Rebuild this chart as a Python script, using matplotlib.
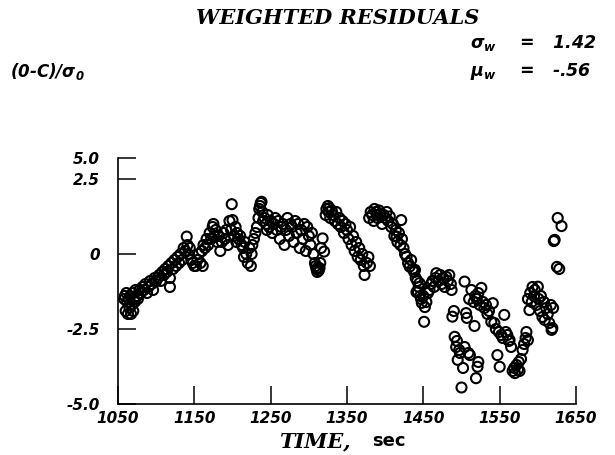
import matplotlib
matplotlib.use('Agg')
import matplotlib.pyplot as plt
import numpy as np

# weighted residuals, in time order (sec, (O-C)/sigma0)
t_a = [1058, 1059, 1060, 1061, 1062, 1063, 1064, 1065, 1066, 1067, 1068, 1069, 1070, 1071, 1072,
       1073, 1075, 1076, 1078, 1080, 1082, 1084, 1086, 1088, 1090, 1092, 1094, 1096, 1098, 1100]
r_a = [-1.5, -1.4, -1.9, -1.3, -1.6, -2.0, -1.5, -1.8, -1.4, -2.0, -1.7, -1.3, -1.9, -1.5, -1.6,
       -1.2, -1.4, -1.5, -1.2, -1.3, -1.1, -1.2, -1.0, -1.3, -1.1, -0.9, -1.0, -1.2, -0.8, -0.9]

t_b = [1102, 1104, 1106, 1108, 1110, 1112, 1114, 1116, 1118, 1118, 1120, 1122, 1124, 1126, 1128,
       1130, 1132, 1134, 1136, 1138, 1140, 1141, 1142, 1144, 1146, 1148, 1150]
r_b = [-0.8, -0.7, -0.9, -0.6, -0.7, -0.5, -0.6, -0.4, -0.8, -1.1, -0.3, -0.5, -0.2, -0.4, -0.1,
       -0.3, 0.0, -0.2, 0.2, 0.1, 0.58, 0.3, 0.0, 0.2, -0.2, -0.3, -0.4]

t_c = [1152, 1154, 1156, 1158, 1160, 1161, 1162, 1164, 1166, 1168, 1170, 1172, 1174, 1175, 1176,
       1178, 1180, 1182, 1184, 1186, 1188, 1190, 1192, 1194, 1196, 1198, 1199, 1200]
r_c = [-0.4, -0.2, 0.0, -0.3, 0.1, -0.4, 0.3, 0.2, 0.5, 0.3, 0.7, 0.5, 0.9, 1.0, 0.6,
       0.8, 0.4, 0.6, 0.1, 0.4, 0.7, 0.5, 0.8, 0.3, 1.1, 0.8, 1.66, 1.13]

t_d = [1202, 1204, 1205, 1206, 1208, 1210, 1212, 1214, 1215, 1216, 1218, 1220, 1222, 1224, 1225,
       1226, 1228, 1230, 1232, 1234, 1235, 1236, 1237, 1238, 1239, 1240]
r_d = [0.6, 0.9, 0.4, 0.7, 0.5, 0.6, 0.3, 0.2, -0.1, 0.4, 0.0, -0.3, 0.2, -0.4, 0.0,
       0.3, 0.5, 0.7, 0.9, 1.2, 1.5, 1.6, 1.7, 1.74, 1.4, 1.1]

t_e = [1242, 1244, 1245, 1246, 1248, 1250, 1252, 1254, 1256, 1258, 1260, 1262, 1264, 1266, 1268,
       1270, 1272, 1274, 1276, 1278, 1280, 1282, 1284, 1286, 1288, 1290, 1292, 1294, 1296, 1298,
       1300, 1302, 1304]
r_e = [1.2, 1.0, 0.8, 1.3, 0.9, 1.1, 0.7, 1.0, 1.2, 0.8, 1.1, 0.5, 0.9, 1.0, 0.3,
       0.8, 1.2, 0.6, 1.0, 0.9, 0.4, 1.1, 0.7, 1.0, 0.2, 0.8, 0.5, 1.0, 0.1, 0.9,
       0.6, 0.3, 0.7]

t_f = [1306, 1308, 1309, 1310, 1311, 1312, 1313, 1314, 1315, 1316, 1318, 1320, 1322, 1323, 1325,
       1326, 1327, 1328]
r_f = [0.0, -0.3, -0.4, -0.5, -0.6, -0.45, -0.55, -0.47, -0.3, 0.2, 0.52, 0.08, 1.3, 1.5, 1.6,
       1.4, 1.53, 1.2]

t_g = [1330, 1332, 1334, 1336, 1338, 1340, 1342, 1344, 1346, 1348, 1350, 1352, 1354, 1356, 1358,
       1360, 1362, 1364, 1366, 1368, 1370, 1372, 1373, 1376, 1378, 1380]
r_g = [1.45, 1.3, 1.1, 1.4, 1.0, 1.2, 0.9, 1.1, 0.7, 1.0, 0.8, 0.5, 0.9, 0.3, 0.6,
       0.1, 0.4, -0.1, 0.2, -0.2, 0.0, -0.4, -0.7, -0.3, -0.1, -0.4]

t_h = [1379, 1381, 1383, 1385, 1386, 1388, 1389, 1390, 1392, 1394, 1396, 1398, 1400, 1402, 1404,
       1406, 1408, 1410, 1412, 1414, 1415, 1416, 1418, 1420, 1421, 1422]
r_h = [1.2, 1.4, 1.3, 1.1, 1.5, 1.4, 1.3, 1.2, 1.45, 1.35, 1.0, 1.3, 1.2, 1.4, 1.1,
       1.25, 0.9, 1.0, 0.6, 0.8, 0.58, 0.4, 0.7, 0.3, 1.13, 0.5]

t_i = [1424, 1426, 1428, 1430, 1432, 1434, 1436, 1438, 1439, 1440, 1441, 1442, 1443, 1444, 1445,
       1446, 1447, 1448, 1450, 1451]
r_i = [0.2, 0.0, -0.09, -0.3, -0.42, -0.2, -0.5, -0.6, -0.53, -0.8, -1.27, -0.9, -1.26, -1.1, -0.97,
       -1.4, -1.5, -1.63, -1.4, -2.26]

t_j = [1452, 1454, 1456, 1458, 1460, 1462, 1464, 1466, 1467, 1470, 1472, 1474, 1476, 1478, 1480,
       1482, 1484, 1486, 1487]
r_j = [-1.77, -1.6, -1.3, -1.2, -1.0, -0.9, -1.1, -0.8, -0.64, -0.9, -0.7, -1.0, -0.8, -1.1, -0.76,
       -0.9, -0.7, -1.0, -1.2]

t_l = [1488, 1490, 1491, 1493, 1494, 1495, 1497, 1498, 1500, 1502, 1504, 1506, 1507, 1509, 1511,
       1517, 1519, 1521, 1522]
r_l = [-2.09, -1.9, -2.76, -3.1, -2.9, -3.53, -3.2, -3.3, -4.45, -3.8, -3.1, -1.97, -2.13, -3.3, -3.37,
       -2.4, -4.14, -3.76, -3.6]

t_m = [1504, 1510, 1513, 1516, 1518, 1520, 1522, 1524, 1526, 1528, 1530, 1532, 1534, 1536, 1539,
       1541, 1543, 1545, 1547, 1549, 1550, 1552, 1554, 1556, 1558, 1560, 1562, 1563]
r_m = [-0.92, -1.5, -1.2, -1.6, -1.4, -1.5, -1.3, -1.7, -1.13, -1.6, -1.8, -1.7, -2.0, -1.9, -2.26,
       -1.64, -2.3, -2.5, -3.37, -2.6, -3.76, -2.7, -2.8, -2.03, -2.6, -2.7, -2.9, -2.87]

t_k = [1565, 1567, 1569, 1570, 1572, 1574, 1575, 1576, 1578, 1580, 1582, 1584, 1585, 1587, 1587,
       1589, 1590, 1592, 1593, 1595, 1596, 1598, 1600, 1601, 1603, 1604, 1606, 1608, 1609, 1611,
       1613, 1615, 1617, 1618, 1619, 1620, 1621, 1622, 1625, 1626, 1628, 1631]
r_k = [-3.1, -3.9, -3.8, -3.97, -3.7, -3.85, -3.6, -3.9, -3.5, -3.2, -3.0, -2.8, -2.6, -2.87, -1.5,
       -1.87, -1.3, -1.6, -1.1, -1.4, -1.2, -1.7, -1.09, -1.5, -1.9, -1.4, -2.1, -1.6, -2.2, -1.8,
       -2.0, -2.3, -1.7, -2.53, -2.47, -1.8, 0.43, 0.47, -0.43, 1.2, -0.5, 0.93]

time_sec = t_a + t_b + t_c + t_d + t_e + t_f + t_g + t_h + t_i + t_j + t_l + t_m + t_k
resid = r_a + r_b + r_c + r_d + r_e + r_f + r_g + r_h + r_i + r_j + r_l + r_m + r_k

x_ticks = [1050, 1150, 1250, 1350, 1450, 1550, 1650]
y_ticks = [-5.0, -2.5, 0.0, 2.5, 3.2]
y_labels = ['-5.0', '-2.5', '0', '2.5', '5.0']

plt.rcParams['mathtext.fontset'] = 'custom'
plt.rcParams['mathtext.rm'] = 'DejaVu Sans:italic:bold'
plt.rcParams['mathtext.it'] = 'DejaVu Sans:italic:bold'

lab = dict(family='DejaVu Sans', style='italic', weight='bold')

fig = plt.figure(figsize=(6.15, 4.55), dpi=100)
ax = fig.add_axes([0.1919, 0.1121, 0.7447, 0.5407])

ax.scatter(time_sec, resid, s=52, facecolors='none', edgecolors='black', linewidths=1.5,
           clip_on=False)

ax.set_xlim(1050, 1650)
ax.set_ylim(-5.0, 3.2)
ax.set_xticks(x_ticks)
ax.set_xticklabels([str(v) for v in x_ticks], fontsize=11, **lab)
ax.set_yticks(y_ticks)
ax.set_yticklabels(y_labels, fontsize=11, **lab)
ax.tick_params(direction='in', length=13, width=1.1, color='black')
ax.tick_params(axis='y', pad=13)
ax.tick_params(axis='x', pad=5)
for s in ['top', 'right']:
    ax.spines[s].set_visible(False)
for s in ['left', 'bottom']:
    ax.spines[s].set_linewidth(1.2)

fig.text(338 / 615, 1 - 18 / 455, 'WEIGHTED RESIDUALS', ha='center', va='center',
         family='DejaVu Serif', style='italic', weight='bold', fontsize=15)
fig.text(10 / 615, 1 - 72 / 455, '(0-C)/σ$_0$', ha='left', va='center', fontsize=12, **lab)
fig.text(470 / 615, 1 - 43 / 455, 'σ$_w$    =   1.42', ha='left', va='center', fontsize=12.5, **lab)
fig.text(470 / 615, 1 - 72 / 455, 'μ$_w$    =   -.56', ha='left', va='center', fontsize=12.5, **lab)

fig.text(351 / 615, 1 - 441 / 455, 'TIME,', ha='right', va='center',
         family='DejaVu Serif', style='italic', weight='bold', fontsize=15)
fig.text(372 / 615, 1 - 441 / 455, 'sec', ha='left', va='center', fontsize=13,
         family='DejaVu Sans', weight='bold')

fig.savefig('out.png', dpi=100)
